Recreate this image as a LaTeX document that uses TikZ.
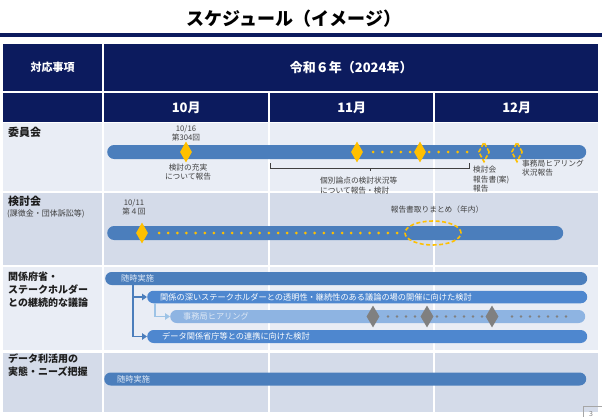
\documentclass[tikz,border=0pt]{standalone}
\usepackage{fontspec}
\setmainfont{Noto Sans CJK JP}
\usetikzlibrary{shapes.geometric,arrows.meta}
\definecolor{navy}{RGB}{12,27,94}
\definecolor{rowlight}{RGB}{233,237,245}
\definecolor{rowdark}{RGB}{212,219,233}
\definecolor{barblue}{RGB}{75,126,188}
\definecolor{barmid}{RGB}{78,135,207}
\definecolor{barlight}{RGB}{142,180,226}
\definecolor{gold}{RGB}{255,192,0}
\definecolor{diagray}{RGB}{128,128,128}
\definecolor{txtdark}{RGB}{30,30,30}
\definecolor{txtsmall}{RGB}{64,64,64}
\definecolor{arrlightc}{RGB}{157,195,230}
\definecolor{bartxtc}{RGB}{222,232,245}
\begin{document}
\begin{tikzpicture}[x=1pt,y=-1pt,
  hdrcell/.style={fill=navy, draw=none, text=white, inner sep=0, anchor=north west, font=\fontsize{11}{13}\selectfont\bfseries},
  monthcell/.style={hdrcell, font=\fontsize{13}{15}\selectfont\bfseries},
  rowlbl/.style={anchor=west, inner sep=0, align=left, text=txtdark, font=\fontsize{10}{13}\selectfont\bfseries},
  smalllbl/.style={inner sep=0, text=txtsmall, font=\fontsize{7.7}{9.5}\selectfont},
  barnode/.style={draw=none, anchor=west, inner sep=0, rounded corners=6.5pt, minimum height=13pt},
  bartxt/.style={anchor=west, inner sep=0, text=bartxtc, font=\fontsize{8.2}{9}\selectfont},
  golddia/.style={diamond, fill=gold, draw=none, inner sep=0, minimum width=12pt, minimum height=21pt},
  goldodia/.style={diamond, draw=gold, fill=none, dash pattern=on 4pt off 2pt, line width=1.6pt, inner sep=0, minimum width=11pt, minimum height=20pt},
  graydia/.style={diamond, fill=diagray, draw=none, inner sep=0, minimum width=13pt, minimum height=22pt},
  bracketln/.style={draw=txtsmall, line width=0.6pt},
  arrblue/.style={draw=barblue, line width=1.5pt, -{Triangle[length=5pt,width=6.5pt]}},
  arrlight/.style={draw=arrlightc, line width=1.5pt, -{Triangle[length=5pt,width=6.5pt]}}
]
\useasboundingbox (0,0) rectangle (602,417);
\fill[white] (0,0) rectangle (602,417);

% title
\node[font=\fontsize{18}{20}\selectfont\bfseries, text=black, inner sep=0] (title) at (294,19) {スケジュール（イメージ）};
\draw[navy, line width=3.2pt] (0,35) -- (602,35);

% header
\node[hdrcell, minimum width=99pt, minimum height=47pt] (h1) at (3,44) {対応事項};
\node[monthcell, minimum width=494pt, minimum height=47pt] (h2) at (104,44) {令和６年（2024年）};
\node[hdrcell, minimum width=99pt, minimum height=29pt] (m0) at (3,93) {};
\node[monthcell, minimum width=164pt, minimum height=29pt] (m1) at (104,93) {10月};
\node[monthcell, minimum width=163pt, minimum height=29pt] (m2) at (270,93) {11月};
\node[monthcell, minimum width=163pt, minimum height=29pt] (m3) at (435,93) {12月};

% row backgrounds
\foreach \ya/\yb/\c in {123/191/rowlight,193/265/rowdark,267/350/rowlight,353/412/rowdark}{
  \fill[\c] (3,\ya) rectangle (102,\yb);
  \fill[\c] (104,\ya) rectangle (268,\yb);
  \fill[\c] (270,\ya) rectangle (433,\yb);
  \fill[\c] (435,\ya) rectangle (598,\yb);
}

% ===== row 1: 委員会
\node[rowlbl, font=\fontsize{11}{13}\selectfont\bfseries] (r1) at (8,132) {委員会};
\node[barnode, fill=barblue, minimum width=479pt, minimum height=14pt, rounded corners=7pt] (bar1) at (107,152) {};
\node[smalllbl] (l1a) at (186,129) {10/16};
\node[smalllbl] (l1b) at (186,137.5) {第304回};
\node[golddia] (d1) at (186,152) {};
\node[smalllbl, align=center] (l1c) at (188,172) {検討の充実\\について報告};
\foreach \x in {373,382.3,391.6,400.9,410.2,429,438.5,448,457.5,467}
  \fill[gold] (\x,152) circle (1.5pt);
\node[golddia] (d2) at (357,152) {};
\node[golddia] (d3) at (420,152) {};
\node[goldodia] (d4) at (484,152) {};
\node[goldodia] (d5) at (517,152) {};
\draw[bracketln] (270,163) -- (270,168) -- (469,168) -- (469,163);
\draw[bracketln] (370,168) -- (370,171);
\node[smalllbl, align=left, anchor=west] (l1d) at (320,185.5) {個別論点の検討状況等\\について報告・検討};
\node[smalllbl, align=left, anchor=west] (l1e) at (473,179.5) {検討会\\報告書(案)\\報告};
\node[smalllbl, align=left, anchor=west] (l1f) at (522,168) {事務局ヒアリング\\状況報告};

% ===== row 2: 検討会
\node[rowlbl, font=\fontsize{11}{13}\selectfont\bfseries] (r2) at (8,201) {検討会};
\node[rowlbl, font=\fontsize{8}{10}\selectfont, text=txtsmall] (r2b) at (7,214) {(課徴金・団体訴訟等)};
\node[smalllbl] (l2a) at (134,203) {10/11};
\node[smalllbl] (l2b) at (134,212) {第４回};
\node[barnode, fill=barblue, minimum width=456pt, minimum height=14pt, rounded corners=7pt] (bar2) at (107,233) {};
\foreach \i in {0,...,26}
  \fill[gold] ({159+\i*9.154},233) circle (1.5pt);
\node[golddia] (d6) at (142,233) {};
\node[ellipse, draw=gold, fill=none, dash pattern=on 4pt off 2.5pt, line width=1.6pt, minimum width=56pt, minimum height=24pt, inner sep=0] (el) at (433,233) {};
\node[smalllbl] (l2c) at (437,210) {報告書取りまとめ（年内）};

% ===== row 3: 関係府省
\node[rowlbl] (r3) at (8,290) {関係府省・\\ステークホルダー\\との継続的な議論};
\node[barnode, fill=barblue, minimum width=482pt] (barA) at (105,278.5) {};
\node[bartxt] (tA) at (121,278.5) {随時実施};
\node[barnode, fill=barmid, minimum width=440pt, minimum height=12.5pt, rounded corners=6.25pt] (barB) at (147,297) {};
\node[bartxt, text=white] (tB) at (160,297) {関係の深いステークホルダーとの透明性・継続性のある議論の場の開催に向けた検討};
\node[barnode, fill=barlight, minimum width=415pt] (barC) at (170,316.5) {};
\node[bartxt] (tC) at (183,316.5) {事務局ヒアリング};
\foreach \x in {388,397,406,415,437,446,455,464,473,482,512,521,530,539,548,557,566}
  \fill[diagray] (\x,316.5) circle (1.3pt);
\node[graydia] (g1) at (373,316.5) {};
\node[graydia] (g2) at (427,316.5) {};
\node[graydia] (g3) at (492,316.5) {};
\node[barnode, fill=barmid, minimum width=440pt] (barD) at (147,336.5) {};
\node[bartxt, text=white] (tD) at (162,336.5) {データ関係省庁等との連携に向けた検討};
\draw[arrblue] ([xshift=28pt]barA.south west) |- (barB.west);
\draw[arrblue] ([xshift=28pt]barA.south west) |- (barD.west);
\draw[arrlight] ([xshift=8pt]barB.south west) |- (barC.west);

% ===== row 4: データ利活用
\node[rowlbl] (r4) at (8,365.5) {データ利活用の\\実態・ニーズ把握};
\node[barnode, fill=barblue, minimum width=482pt] (bar4) at (104,379) {};
\node[bartxt] (t4) at (117,379) {随時実施};

% page number
\draw[gray!70, line width=0.6pt] (583,417) -- (583,406.5) -- (602,406.5);
\node[font=\fontsize{7}{8}\selectfont, text=gray, inner sep=0] (pg) at (591,414) {3};
\end{tikzpicture}
\end{document}
